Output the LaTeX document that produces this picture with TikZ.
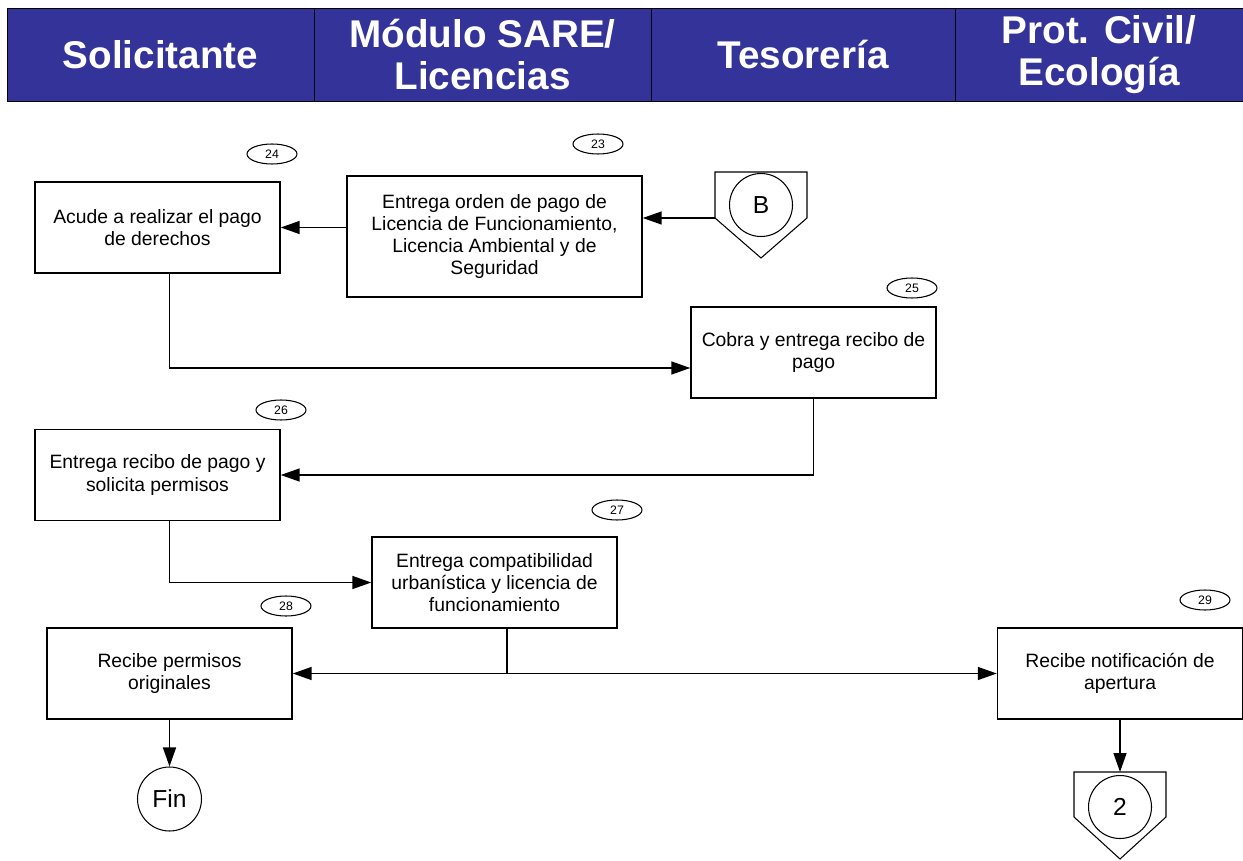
\documentclass[tikz,border=0pt]{standalone}
\usepackage{fontspec}
\setmainfont{Liberation Sans}
\usepackage{xcolor}
\usetikzlibrary{arrows.meta, shapes.geometric}
\definecolor{cabecera}{RGB}{51,51,153}
\newcommand{\ftexto}{\fontsize{11}{12.6}\selectfont}
\newcommand{\fnum}{\fontsize{7}{8}\selectfont}

\begin{document}
\begin{tikzpicture}[x=0.02cm, y=-0.02cm,
    encabezado/.style={draw, fill=cabecera, text=white, align=center, inner sep=0pt,
      minimum height=1.86cm, font=\fontsize{22}{23.5}\selectfont\bfseries},
    caja/.style={draw, line width=0.85pt, align=center, inner sep=0pt,
      minimum width=4.9cm, minimum height=1.82cm, font=\ftexto},
    num/.style={draw, ellipse, line width=0.6pt, inner sep=0pt,
      minimum width=1cm, minimum height=0.4cm, font=\fnum},
    conector/.style={draw, circle, line width=0.6pt, inner sep=0pt,
      minimum size=1.26cm, font=\fontsize{14}{16}\selectfont},
    flecha/.style={line width=0.85pt, -{Triangle[length=0.38cm, width=0.26cm]}}]
      \useasboundingbox (0,0) rectangle (1243,861);
      % carriles
      \foreach \i\x\w\t in {h1/160.5/6.14/{Solicitante}, h2/482.5/6.74/{Módulo SARE/\\Licencias},
                            h3/803/6.08/{Tesorería}, h4/1099/5.76/{Prot. Civil/\\Ecología}} {
        \node[encabezado, minimum width=\w cm] (\i) at (\x,54.5) {\t};
      }
      % actividades
      \node[caja] (p24) at (157.5,227.5) {Acude a realizar el pago\\de derechos};
      \node[caja, minimum width=5.9cm, minimum height=2.42cm] (p23) at (494.5,236.5)
        {Entrega orden de pago de\\Licencia de Funcionamiento,\\Licencia Ambiental y de\\Seguridad};
      \node[caja] (p25) at (813.5,352.5) {Cobra y entrega recibo de\\pago};
      \node[caja] (p26) at (157.5,475) {Entrega recibo de pago y\\solicita permisos};
      \node[caja] (p27) at (494.5,582.5) {Entrega compatibilidad\\urbanística y licencia de\\funcionamiento};
      \node[caja] (p28) at (169.5,673.5) {Recibe permisos\\originales};
      \node[caja] (p29) at (1120,673.5) {Recibe notificación de\\apertura};
      \foreach \i\x\y in {23/598/144, 24/272/154, 25/912/288, 26/281/410,
                          27/617/510, 28/286/606, 29/1205/600} {
        \node[num] (n\i) at (\x,\y) {\i};
      }
      % conectores de pagina
      \draw[line width=0.6pt] (715,172) -- (807,172) -- (807,218) -- (761,258) -- (715,218) -- cycle;
      \coordinate (bIzq) at (715,218);
      \node[conector] (B) at (761,205) {B};
      \draw[line width=0.6pt] (1074,772) -- (1166,772) -- (1166,817) -- (1120,859) -- (1074,817) -- cycle;
      \coordinate (dosSup) at (1120,772);
      \node[conector] (dos) at (1120,807) {2};
      \node[conector, minimum size=1.28cm] (fin) at (169.5,799) {Fin};
      % flujo
      \draw[flecha] (bIzq) -- (bIzq -| p23.east);
      \draw[flecha] (p23.west |- p24) -- (p24.east);
      \draw[flecha] (p24.south -| p28) |- ([yshift=-0.31cm]p25.west);
      \draw[flecha] (p25.south) |- (p26.east);
      \draw[flecha] (p26.south -| p28) |- (p27.west);
      \foreach \j in {p28.east, p29.west} {
        \draw[flecha] ([xshift=0.25cm]p27.south) |- (\j);
      }
      \draw[flecha] (p28.south) -- (fin.north);
      \draw[flecha] (p29.south) -- (dosSup);
    \end{tikzpicture}
\end{document}
